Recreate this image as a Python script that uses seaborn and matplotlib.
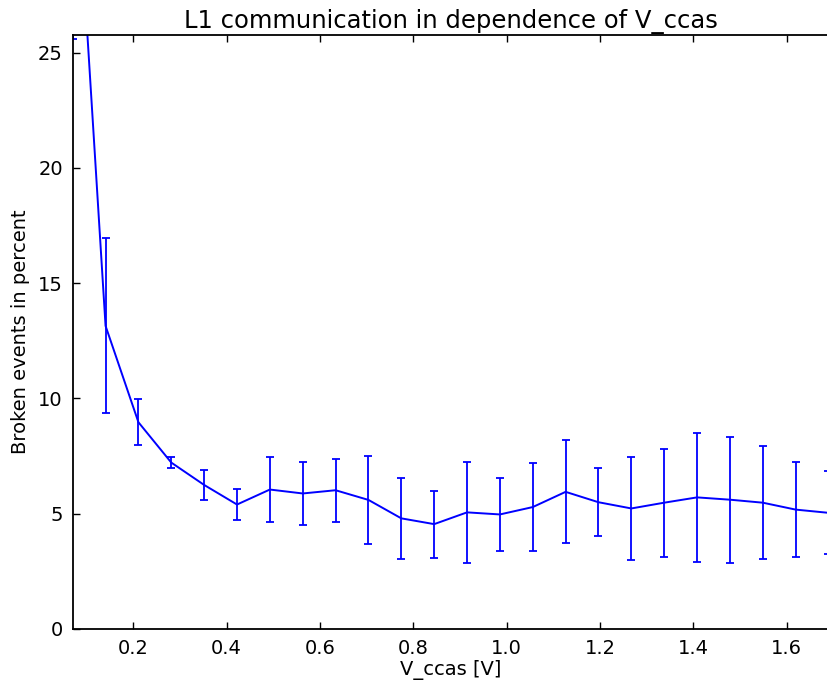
import matplotlib
matplotlib.use("Agg")
import matplotlib.pyplot as plt
import seaborn as sns
import numpy as np
import pandas as pd

step = 0.0704
v_ccas = [step * k for k in range(1, 25)]
broken = [36.0, 13.15, 8.97, 7.22, 6.25, 5.40, 6.05, 5.88, 6.02, 5.60, 4.80, 4.55,
          5.06, 4.97, 5.29, 5.95, 5.50, 5.23, 5.48, 5.71, 5.61, 5.48, 5.18, 5.04]
err = [10.4, 3.8, 1.0, 0.25, 0.66, 0.69, 1.40, 1.38, 1.37, 1.90, 1.76, 1.45,
       2.19, 1.58, 1.90, 2.23, 1.47, 2.24, 2.34, 2.80, 2.74, 2.45, 2.06, 1.80]

df = pd.DataFrame({"V_ccas": v_ccas, "broken": broken, "err": err})

sns.set_style("ticks")
plt.rcParams['font.family'] = ['DejaVu Sans']
plt.rcParams['text.color'] = 'black'
plt.rcParams['axes.labelcolor'] = 'black'

fig = plt.figure(figsize=(8.27, 6.84), dpi=100)
ax = fig.add_axes([72.7 / 827, 1 - 629 / 684, (828.5 - 72.7) / 827, (629 - 35) / 684])

sns.lineplot(data=df, x="V_ccas", y="broken", ax=ax, color=(0, 0, 1), linewidth=1.4,
             estimator=None, sort=False)
ax.errorbar(df["V_ccas"], df["broken"], yerr=df["err"], fmt="none", ecolor=(0, 0, 1),
            elinewidth=1.3, capsize=3, capthick=1.3)

ax.set_xlim(v_ccas[0], v_ccas[-1])
ax.set_ylim(0, 25.77)
ax.set_xticks([0.2, 0.4, 0.6, 0.8, 1.0, 1.2, 1.4, 1.6])
ax.set_yticks([0, 5, 10, 15, 20, 25])
ax.tick_params(direction="in", top=True, right=False, length=5, width=1,
               labelsize=14, pad=7, colors="black")
for s in ax.spines.values():
    s.set_visible(True)
    s.set_linewidth(1.3)
    s.set_color("black")
ax.spines["right"].set_visible(False)

ax.set_title("L1 communication in dependence of V_ccas", fontsize=17.5, pad=5, color="black")
ax.set_xlabel("V_ccas [V]", fontsize=14, labelpad=2, color="black")
ax.set_ylabel("Broken events in percent", fontsize=14, labelpad=6, color="black")

fig.savefig("out.png", dpi=100)
